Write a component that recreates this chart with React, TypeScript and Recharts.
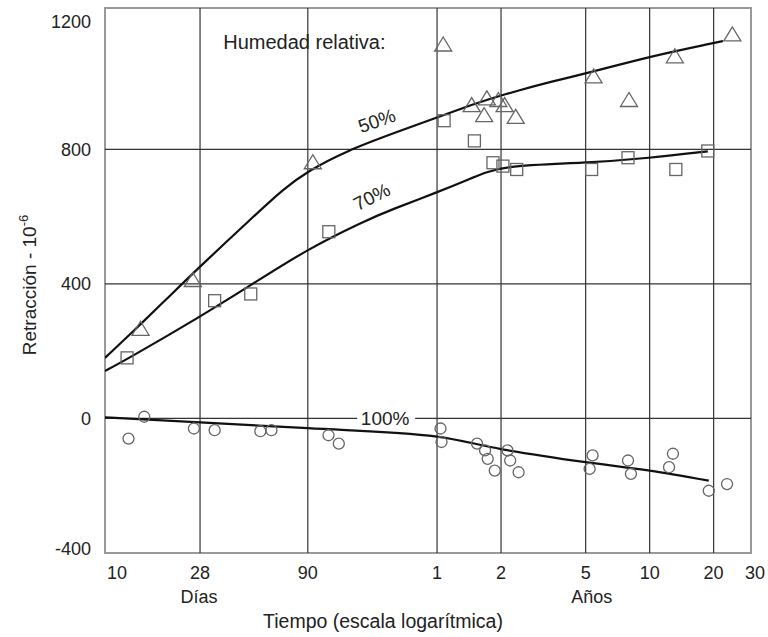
import React from "react"
import {
  ComposedChart,
  Line,
  Scatter,
  XAxis,
  YAxis,
  ReferenceLine,
  ReferenceArea,
  ReferenceDot,
  Label,
} from "recharts"

// time in days (log axis), shrinkage in 10^-6
const xTicks = [10, 28, 90, 365, 730, 1826, 3652, 7305, 10950]
const xTickLabels = ["10", "28", "90", "1", "2", "5", "10", "20", "30"]
const xGrid = [28, 90, 365, 730, 1826, 3652, 7305]
const yTicks = [-400, 0, 400, 800, 1200]
const yGrid = [0, 400, 800]

// 50 % humedad relativa (triangles)
const triDays = [14.7, 25.9, 95, 390, 531, 608, 626, 709, 759, 856, 1989, 2920, 4798, 8947]
const triVals = [265, 410, 760, 1110, 930, 900, 950, 945, 930, 895, 1015, 945, 1075, 1140]

// 70 % (squares)
const sqDays = [12.7, 32.8, 48.5, 113, 394, 547, 669, 745, 865, 1947, 2889, 4850, 6858]
const sqVals = [180, 350, 370, 555, 885, 825, 760, 750, 740, 740, 775, 740, 795]

// 100 % (circles)
const ciDays = [12.9, 15.3, 26.2, 32.8, 53.8, 60.7, 112.6, 125.9, 379, 383, 563, 614, 632, 682, 783, 806, 883, 1968, 1906, 2889, 2982, 4700, 4506, 6929, 8447]
const ciVals = [-60, 5, -30, -35, -38, -35, -50, -75, -30, -70, -75, -95, -120, -155, -95, -125, -160, -110, -150, -125, -165, -105, -145, -215, -195]

// fitted curves
const c50Days = [10, 15, 20, 28, 50, 69, 90, 136, 238, 365, 531, 730, 1327, 1826, 3652, 7305, 8085]
const c50Vals = [180, 285, 362, 452, 600, 682, 735, 795, 852, 895, 932, 961, 1005, 1025, 1076, 1116, 1122]
const c70Days = [10, 12.7, 28, 48.5, 90, 165, 223, 365, 531, 730, 1826, 3652, 6858]
const c70Vals = [141, 176, 302, 396, 504, 586, 621, 672, 714, 752, 759, 774, 794]
const c100Days = [10, 28, 90, 365, 730, 1826, 3652, 6929]
const c100Vals = [3, -12, -29, -54, -91, -130, -155, -185]

const pts = (ds: number[], vs: number[]) => ds.map((d, i) => ({ d, v: vs[i] }))

const FONT = "'Liberation Sans', Arial, sans-serif"
const TXT = "#222"
const MARK = "#666"

const triangle = (p: any) => (
  <polygon
    points={`${p.cx},${p.cy - 8} ${p.cx - 8.5},${p.cy + 6} ${p.cx + 8.5},${p.cy + 6}`}
    fill="none"
    stroke={MARK}
    strokeWidth={1.3}
  />
)
const square = (p: any) => (
  <rect x={p.cx - 6} y={p.cy - 6} width={12} height={12} fill="none" stroke={MARK} strokeWidth={1.3} />
)
const circle = (p: any) => <circle cx={p.cx} cy={p.cy} r={5.5} fill="none" stroke={MARK} strokeWidth={1.3} />

const XTick = (props: any) => {
  const { x, y, payload } = props
  const i = xTicks.indexOf(payload.value)
  const dx = payload.value === 10 ? 12 : payload.value === 10950 ? 4 : 0
  const sub = payload.value === 28 ? "Días" : payload.value === 1826 ? "Años" : null
  const sdx = payload.value === 28 ? -1 : 6
  return (
    <g>
      <text x={x + dx} y={y} dy="0.71em" textAnchor="middle" fontSize={18} fontFamily={FONT} fill={TXT}>
        {xTickLabels[i]}
      </text>
      {sub && (
        <text x={x + sdx} y={y + 37} textAnchor="middle" fontSize={18} fontFamily={FONT} fill={TXT}>
          {sub}
        </text>
      )}
    </g>
  )
}

const YTick = (props: any) => {
  const { x, y, payload } = props
  const nudge = payload.value === 1200 ? 7 : payload.value === -400 ? -4 : 0
  return (
    <text x={x} y={y + nudge} dy="0.35em" textAnchor="end" fontSize={18} fontFamily={FONT} fill={TXT}>
      {payload.value}
    </text>
  )
}

const xTitle = () => (
  <text x={383} y={628} textAnchor="middle" fontSize={19.5} fontFamily={FONT} fill={TXT}>
    Tiempo (escala logarítmica)
  </text>
)

const yTitle = () => (
  <text x={36} y={285} transform="rotate(-90, 36, 285)" textAnchor="middle" fontSize={19} fontFamily={FONT} fill={TXT}>
    Retracción - 10<tspan dy={-8} fontSize={13}>-6</tspan>
  </text>
)

const note = (text: string, angle: number, anchor: string = "middle", bg = false, size = 19) => (p: any) => (
  <g transform={`rotate(${angle}, ${p.cx}, ${p.cy})`}>
    {bg && <rect x={p.cx - 28} y={p.cy - 9} width={58} height={17} fill="#fff" />}
    <text x={p.cx} y={p.cy} dy="0.35em" textAnchor={anchor} fontSize={size} fontFamily={FONT} fill={TXT}>
      {text}
    </text>
  </g>
)

export default function App() {
  return (
    <div style={{ position: "absolute", left: 0, top: 0, width: 768, height: 637, background: "#fff" }}>
      <ComposedChart width={768} height={637} margin={{ top: 8, right: 17, bottom: 0, left: 0 }}>
        <XAxis
          dataKey="d"
          type="number"
          scale="log"
          domain={[10, 10950]}
          ticks={xTicks}
          allowDataOverflow
          axisLine={false}
          tickLine={false}
          tickMargin={7}
          height={84}
          tick={<XTick />}
          interval={0}
        >
          <Label content={xTitle} />
        </XAxis>
        <YAxis
          dataKey="v"
          type="number"
          domain={[-400, 1220]}
          ticks={yTicks}
          allowDataOverflow
          axisLine={false}
          tickLine={false}
          tickMargin={8}
          width={105}
          tick={<YTick />}
          interval={0}
        >
          <Label content={yTitle} />
        </YAxis>

        {xGrid.map((d) => (
          <ReferenceLine key={"x" + d} x={d} stroke="#333" strokeWidth={1.2} />
        ))}
        {yGrid.map((v) => (
          <ReferenceLine key={"y" + v} y={v} stroke="#333" strokeWidth={1.2} />
        ))}
        <ReferenceArea x1={10} x2={10950} y1={-400} y2={1220} fill="none" stroke="#999" strokeWidth={2} ifOverflow="visible" />

        <Line data={pts(c50Days, c50Vals)} dataKey="v" type="basis" stroke="#111" strokeWidth={2.2} dot={false} isAnimationActive={false} />
        <Line data={pts(c70Days, c70Vals)} dataKey="v" type="basis" stroke="#111" strokeWidth={2.2} dot={false} isAnimationActive={false} />
        <Line data={pts(c100Days, c100Vals)} dataKey="v" type="monotone" stroke="#111" strokeWidth={2.2} dot={false} isAnimationActive={false} />

        <Scatter data={pts(triDays, triVals)} dataKey="v" shape={triangle} isAnimationActive={false} />
        <Scatter data={pts(sqDays, sqVals)} dataKey="v" shape={square} isAnimationActive={false} />
        <Scatter data={pts(ciDays, ciVals)} dataKey="v" shape={circle} isAnimationActive={false} />

        <ReferenceDot x={36} y={1120} r={0} shape={note("Humedad relativa:", 0, "start", false, 20)} ifOverflow="visible" />
        <ReferenceDot x={190} y={885} r={0} shape={note("50%", -19)} ifOverflow="visible" />
        <ReferenceDot x={180} y={659} r={0} shape={note("70%", -27)} ifOverflow="visible" />
        <ReferenceDot x={208} y={0} r={0} shape={note("100%", 0, "middle", true)} ifOverflow="visible" />
      </ComposedChart>
    </div>
  )
}
